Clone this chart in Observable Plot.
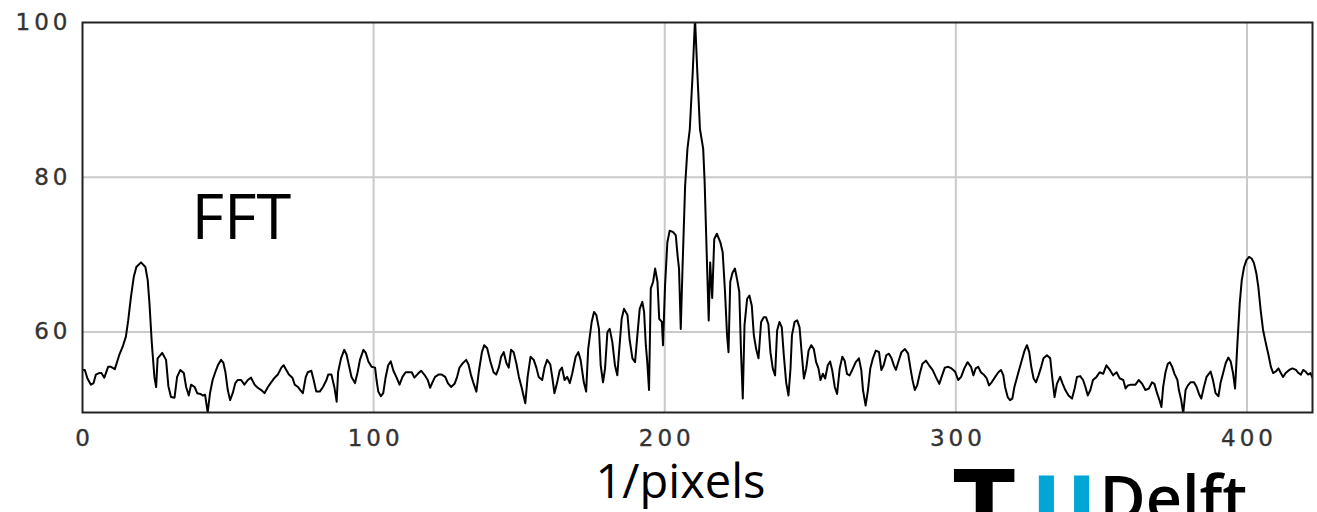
<!DOCTYPE html>
<html><head><meta charset="utf-8">
<script src="https://cdn.jsdelivr.net/npm/d3@7"></script>
<script src="https://cdn.jsdelivr.net/npm/@observablehq/plot@0.6"></script>
<style>
html,body{margin:0;padding:0;background:#fff;overflow:hidden}
#chart svg{display:block}
g[aria-label="x-axis tick label"] text, g[aria-label="y-axis tick label"] text{letter-spacing:4px;stroke:#333;stroke-width:0.35px}
</style></head><body><div id="chart"></div>
<script>
const freq = [
0,0.8,1.7,2.9,3.8,4.6,5.7,6.5,7.5,8.8,9.8,11.1,12.6,13.8,14.9,15.7,16.6,17.6,18.5,20.1,21.6,22.4,23.0,23.8,24.7,25.3,25.8,27.4,28.7,29.5,30.4,31.6,32.5,33.6,34.8,35.6,36.5,37.3,38.5,39.4,40.5,41.3,
42.1,43.0,43.8,44.7,45.6,46.5,47.6,48.4,49.1,49.9,50.7,51.6,52.5,53.3,54.5,55.6,56.8,57.9,59.1,60.2,61.4,62.5,63.7,64.8,66.0,67.1,68.3,69.1,70.0,70.9,72.1,72.9,74.0,74.8,75.7,76.7,77.4,78.6,79.4,80.3,81.5,82.6,83.8,
84.4,85.5,86.5,87.3,87.8,88.8,89.9,90.7,91.5,92.4,93.6,94.5,95.3,96.5,97.3,98.2,99.3,100.5,101.0,101.6,102.5,103.3,104.1,105.0,105.9,106.8,107.9,108.9,109.9,111.0,112.2,113.1,114.0,115.2,116.3,117.4,118.6,119.4,120.2,121.1,122.3,123.4,124.6,125.5,126.6,127.8,
128.6,129.5,130.7,131.8,132.6,133.4,134.3,135.3,136.1,137.2,138.0,139.0,140.1,141.2,142.1,143.0,143.8,144.7,145.6,146.4,147.2,148.1,149.0,149.9,150.8,151.6,152.1,152.9,153.9,155.0,155.9,156.7,157.9,158.7,159.6,160.7,161.5,162.1,163.0,163.9,164.7,165.6,166.5,167.4,168.2,169.4,170.3,171.1,
172.2,173.0,173.7,174.9,175.7,176.5,177.4,178.0,178.8,179.5,180.3,181.1,182.0,182.9,183.7,184.3,185.2,186.0,187.2,187.9,188.9,189.8,190.6,191.4,192.3,192.9,193.5,194.0,194.6,195.2,196.0,196.7,197.5,198.1,199.0,199.4,200.1,200.9,201.7,202.9,203.8,204.4,204.9,205.5,206.1,207.0,207.8,208.6,209.6,210.4,211.2,212.1,213.2,213.7,
214.5,215.1,215.6,216.3,217.0,217.9,219.1,219.9,220.7,221.4,221.9,222.5,223.3,224.1,224.8,225.6,226.2,226.8,227.4,228.3,229.1,229.9,230.6,231.4,232.2,233.1,234.0,234.8,235.6,236.3,237.1,237.9,238.6,239.4,240.2,240.9,241.7,242.5,243.2,243.7,244.6,245.5,246.3,247.1,247.8,248.6,249.4,250.3,251.2,252.0,252.8,253.5,254.3,255.1,256.0,256.8,
257.5,258.4,259.2,260.1,261.0,261.8,262.6,263.5,264.4,265.6,266.7,267.5,268.1,269.0,269.8,270.6,271.5,272.5,273.6,274.4,275.2,276.1,277.0,277.9,278.7,279.4,280.2,281.3,282.5,283.6,284.4,285.1,285.9,286.7,287.6,288.5,289.7,290.8,292.0,293.1,294.3,295.1,296.2,297.4,298.5,299.7,
300.8,301.8,302.9,304.0,305.2,306.0,306.8,307.7,308.6,309.8,310.6,311.4,312.3,313.5,314.6,315.5,316.3,316.9,317.8,318.6,319.4,320.1,320.9,321.7,322.6,323.6,324.4,325.2,325.9,326.7,327.5,328.4,329.3,330.1,331.3,332.4,333.2,333.9,334.7,335.8,336.7,337.6,338.7,339.9,340.8,341.6,342.7,
343.7,344.5,345.3,346.2,347.1,348.3,349.4,350.6,351.7,352.9,354.0,355.2,356.3,357.5,358.3,359.1,360.2,361.7,362.8,364.0,365.1,366.3,367.4,368.2,369.2,370.1,370.6,371.2,372.0,372.8,373.5,374.3,375.1,376.1,376.6,377.4,378.1,378.9,379.7,380.6,381.8,382.7,383.5,384.3,385.2,386.1,
386.7,387.5,388.3,389.2,390.2,390.9,391.8,392.7,393.6,394.4,395.2,395.9,396.7,397.5,398.2,399.0,399.8,400.7,401.6,402.4,403.2,403.9,404.7,405.5,406.5,407.4,408.2,409.0,409.9,410.8,411.6,412.4,413.3,414.5,415.6,416.8,417.7,418.5,419.3,420.1,421.0,421.8,422.6
];
const amplitude = [
55.1,55.1,54.0,53.2,53.4,54.5,54.7,54.7,54.1,55.5,55.5,55.2,57.0,58.1,59.4,61.5,64.4,67.1,68.4,69.0,68.4,66.7,63.7,58.6,54.2,52.9,56.6,57.3,56.4,53.0,51.6,51.5,54.2,55.1,54.7,52.9,51.8,53.2,52.9,52.1,52.0,51.8,
51.9,49.6,52.1,53.8,54.8,55.7,56.4,56.0,54.8,52.5,51.2,52.1,53.4,53.8,53.8,53.2,53.8,54.1,53.2,52.8,52.5,52.1,52.9,53.5,54.1,54.5,55.4,55.7,55.1,54.5,54.1,53.2,52.9,52.5,52.1,54.2,54.8,55.0,53.8,52.3,52.3,52.9,53.8,
54.5,54.5,52.9,51.0,54.8,56.6,57.7,57.1,55.7,54.2,53.4,54.8,56.4,57.7,57.3,56.2,55.5,55.4,53.8,52.3,51.7,52.1,54.1,55.7,56.2,55.0,54.1,53.2,54.2,54.8,54.8,54.8,54.1,54.6,55.0,54.5,53.8,52.8,53.5,54.2,54.5,54.5,54.2,53.4,52.9,53.3,
54.1,55.4,56.0,56.4,55.8,54.5,53.4,52.3,54.8,57.4,58.3,57.9,56.2,54.8,54.5,55.4,56.8,57.4,56.0,55.4,57.7,57.4,56.0,54.2,52.9,51.6,50.8,54.2,56.8,56.4,55.4,54.2,53.8,55.4,56.4,55.8,53.8,52.1,53.4,55.0,55.4,53.8,54.2,53.4,54.6,56.8,57.4,56.4,
53.5,52.3,57.8,61.3,62.6,62.2,60.4,55.7,53.5,55.3,60.0,60.4,58.7,55.7,54.4,57.4,61.7,63.0,62.2,59.1,56.6,56.1,59.6,63.0,63.9,62.6,58.3,56.1,52.5,65.6,66.5,68.2,66.5,61.7,61.3,58.3,66.0,71.6,73.1,72.9,72.5,69.9,68.2,60.4,68.2,78.9,83.7,86.2,93.5,100.5,93.5,86.2,83.7,79.4,
69.0,61.5,69.0,64.4,72.0,72.7,71.6,70.3,65.2,59.6,57.4,66.5,67.7,68.2,66.9,65.2,57.4,51.4,60.9,64.3,64.7,63.4,59.6,57.8,56.6,61.3,61.9,61.9,61.0,57.4,55.3,54.4,60.2,61.3,60.6,57.0,53.5,51.8,55.3,59.6,61.3,61.5,60.6,57.0,54.0,55.3,57.6,58.3,57.8,56.1,55.3,53.8,54.6,54.0,55.7,56.2,
55.1,52.9,52.0,55.3,56.8,56.3,54.6,54.4,55.1,56.1,56.6,55.1,52.5,50.5,52.5,55.3,56.6,57.6,57.4,55.1,55.7,57.0,57.2,56.6,55.7,55.1,56.1,57.4,57.8,57.2,55.3,53.8,52.5,53.1,54.6,55.9,56.3,55.7,55.1,54.2,53.3,54.2,55.4,55.5,55.3,54.9,
53.8,54.2,55.3,56.1,55.5,54.4,55.3,55.5,54.8,54.4,54.0,53.1,53.5,54.2,54.8,55.1,54.4,52.9,51.6,51.2,51.4,52.9,54.0,55.1,56.3,57.6,58.3,57.4,55.5,54.0,53.5,54.4,55.5,56.6,57.0,56.6,53.8,51.6,53.3,54.2,53.3,52.5,51.8,51.4,52.7,54.2,54.3,
53.8,52.9,51.8,52.5,53.8,54.2,54.8,54.6,55.7,55.1,54.4,54.8,54.0,53.8,52.7,53.1,53.2,53.2,53.8,53.3,52.5,52.7,53.5,53.3,52.0,51.0,50.3,52.9,54.8,55.9,56.1,55.5,54.6,53.8,52.5,51.2,49.5,52.5,53.1,53.5,53.5,52.9,52.0,51.4,52.9,54.2,
54.5,54.9,53.8,52.1,51.7,53.4,54.7,56.0,56.7,56.2,54.7,52.7,58.5,63.7,66.7,68.4,69.3,69.7,69.5,68.9,67.6,65.8,62.8,60.3,58.5,57.0,55.5,54.7,54.9,55.3,54.7,54.2,54.7,55.1,55.3,55.1,54.7,54.5,55.1,54.9,54.5,54.7,54.0
];
const xTicks = [0, 100, 200, 300, 400];
const yTicks = [60, 80, 100];
const xGrid = [100, 200, 300, 400];
const yGrid = [60, 80];
const title = "FFT";
const xLabel = "1/pixels";
const logoParts = ["T", "U", "Delft"];

const data = freq.map((f, i) => ({freq: f, amp: amplitude[i]}));

const chart = Plot.plot({
  width: 1317,
  height: 512,
  marginLeft: 82,
  marginRight: 5,
  marginTop: 22,
  marginBottom: 100,
  style: {fontFamily: "'DejaVu Sans', sans-serif", fontSize: "23px", color: "#333", background: "#fff", overflow: "hidden"},
  x: {domain: [0, 422.5], label: null},
  y: {domain: [49.6, 100], label: null},
  marks: [
    Plot.gridX(xGrid, {stroke: "#cacaca", strokeOpacity: 1, strokeWidth: 2}),
    Plot.gridY(yGrid, {stroke: "#cacaca", strokeOpacity: 1, strokeWidth: 2}),
    Plot.axisX(xTicks, {tickSize: 0, tickPadding: 17, dx: 2, fill: "#333"}),
    Plot.axisY(yTicks, {tickSize: 0, tickPadding: 11, fill: "#333"}),
    Plot.line(data, {x: "freq", y: "amp", stroke: "#000", strokeWidth: 2, clip: true}),
    Plot.frame({stroke: "#222", strokeWidth: 2}),
    Plot.text([title], {text: d => d, frameAnchor: "top-left", dx: 109, dy: 216, textAnchor: "start", lineAnchor: "bottom", fontFamily: "Open Sans", fontSize: 63, fill: "#000"}),
    Plot.text([xLabel], {text: d => d, frameAnchor: "bottom-left", dx: 513, dy: 85, textAnchor: "start", lineAnchor: "bottom", fontFamily: "Open Sans", fontSize: 47, fill: "#000"}),
    Plot.text([logoParts[0]], {text: d => d, frameAnchor: "bottom-left", dx: 871, dy: 122, textAnchor: "start", lineAnchor: "bottom", fontFamily: "DejaVu Sans", fontWeight: "bold", fontSize: 90, fill: "#000"}),
    Plot.text([logoParts[1]], {text: d => d, frameAnchor: "bottom-left", dx: 949, dy: 121, textAnchor: "start", lineAnchor: "bottom", fontFamily: "DejaVu Sans", fontWeight: "bold", fontSize: 80, fill: "#00A6D6"}),
    Plot.text([logoParts[2]], {text: d => d, frameAnchor: "bottom-left", dx: 1017, dy: 108, textAnchor: "start", lineAnchor: "bottom", fontFamily: "Open Sans", fontWeight: 600, fontSize: 63, fill: "#000"})
  ]
});
document.getElementById("chart").appendChild(chart);
</script>
</body></html>
